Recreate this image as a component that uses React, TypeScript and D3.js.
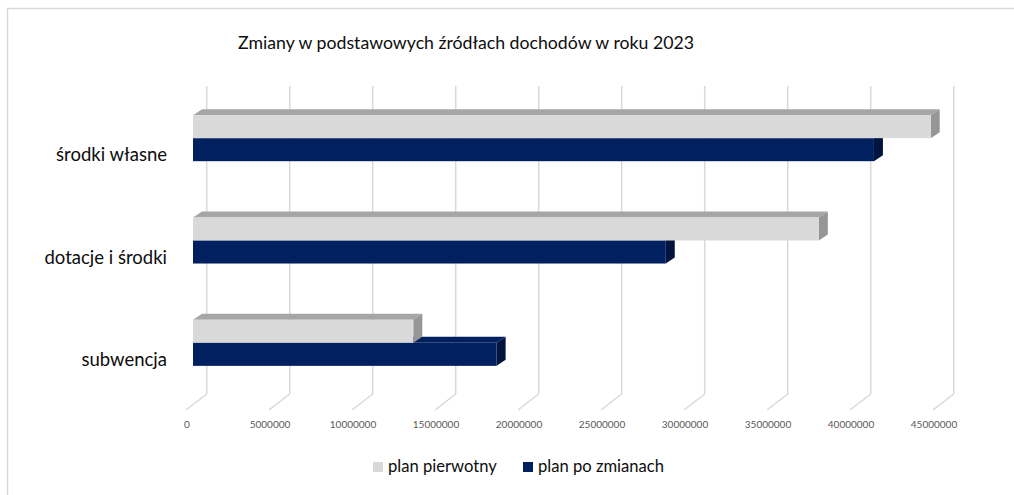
import React, { useEffect, useRef } from 'react';
import * as d3 from 'd3';

const categories = ['środki własne', 'dotacje i środki', 'subwencja'];
const seriesNames = ['plan pierwotny', 'plan po zmianach'];
const planPierwotny = [44440000, 37700000, 13270000];
const planPoZmianach = [41020000, 28480000, 18290000];
const xTicks = [0, 5000000, 10000000, 15000000, 20000000, 25000000, 30000000, 35000000, 40000000, 45000000];

const W = 1014;
const H = 495;

export default function App() {
    const svgRef = useRef<SVGSVGElement>(null);

    useEffect(() => {
        if (!svgRef.current) return;
        const svg = d3.select(svgRef.current);
        svg.selectAll('*').remove();

        const font = 'Lato, "Open Sans", sans-serif';

        // frame (top + left edge only, the rest is cut off)
        svg.append('path')
            .attr('d', `M7.5,${H} L7.5,8.5 L${W},8.5`)
            .attr('fill', 'none')
            .attr('stroke', '#d9d9d9')
            .attr('stroke-width', 1.5);

        svg.append('text')
            .attr('x', 466)
            .attr('y', 49)
            .attr('text-anchor', 'middle')
            .attr('fill', '#0d0d0d')
            .style('font-family', font)
            .style('font-size', '17.7px')
            .text('Zmiany w podstawowych źródłach dochodów w roku 2023');

        // scales (front plane of the bars)
        const x = d3.scaleLinear().domain([0, 45000000]).range([193, 193 + 9 * 83]);
        const y = d3.scaleBand<string>().domain(categories).range([87, 394]).paddingInner(0.55).paddingOuter(0.275);
        const ySub = d3.scaleBand<string>().domain(seriesNames).range([0, y.bandwidth()]);

        // 3D offsets
        const wallDx = 13.7;   // bar front -> back wall
        const floorBack = 394;
        const floorFront = 410;
        const floorDx = 20.7;
        const barDx = 9;
        const barDy = -6;

        // back wall gridlines + floor lines
        const grid = svg.append('g');
        xTicks.forEach(t => {
            const bx = x(t) + wallDx;
            grid.append('line')
                .attr('x1', bx).attr('x2', bx)
                .attr('y1', 86).attr('y2', floorBack)
                .attr('stroke', '#d9d9d9').attr('stroke-width', 1.5);
            grid.append('line')
                .attr('x1', bx).attr('x2', bx - floorDx)
                .attr('y1', floorBack).attr('y2', floorFront)
                .attr('stroke', '#d9d9d9').attr('stroke-width', 1.5);
            grid.append('text')
                .attr('x', bx - floorDx + 1)
                .attr('y', 428)
                .attr('text-anchor', 'middle')
                .attr('fill', '#595959')
                .style('font-family', font)
                .style('font-size', '10px')
                .text(String(t));
        });

        const series = [
            { name: seriesNames[1], values: planPoZmianach, front: '#002060', top: '#00215e', side: '#00143d' },
            { name: seriesNames[0], values: planPierwotny, front: '#d9d9d9', top: '#a6a6a6', side: '#969696' },
        ];

        const bars = svg.append('g');
        series.forEach(s => {
            categories.forEach((c, i) => {
                const x0 = x(0);
                const x1 = x(s.values[i]);
                const y0 = (y(c) ?? 0) + (ySub(s.name) ?? 0);
                const h = ySub.bandwidth();
                // top face
                bars.append('path')
                    .attr('d', `M${x0},${y0} L${x0 + barDx},${y0 + barDy} L${x1 + barDx},${y0 + barDy} L${x1},${y0} Z`)
                    .attr('fill', s.top);
                // right face
                bars.append('path')
                    .attr('d', `M${x1},${y0} L${x1 + barDx},${y0 + barDy} L${x1 + barDx},${y0 + h + barDy} L${x1},${y0 + h} Z`)
                    .attr('fill', s.side);
                // front face
                bars.append('rect')
                    .attr('x', x0).attr('y', y0)
                    .attr('width', x1 - x0).attr('height', h)
                    .attr('fill', s.front);
            });
        });

        // category labels
        categories.forEach(c => {
            svg.append('text')
                .attr('x', 167)
                .attr('y', (y(c) ?? 0) + y.bandwidth() / 2 + 23)
                .attr('text-anchor', 'end')
                .attr('fill', '#0d0d0d')
                .style('font-family', font)
                .style('font-size', '18.5px')
                .text(c);
        });

        // legend
        const legend = [
            { name: seriesNames[0], color: '#d9d9d9', x: 373 },
            { name: seriesNames[1], color: '#002060', x: 523 },
        ];
        legend.forEach(l => {
            svg.append('rect')
                .attr('x', l.x).attr('y', 462)
                .attr('width', 10).attr('height', 10)
                .attr('fill', l.color);
            svg.append('text')
                .attr('x', l.x + 15)
                .attr('y', 472)
                .attr('fill', '#0d0d0d')
                .style('font-family', font)
                .style('font-size', '16.6px')
                .text(l.name);
        });
    }, []);

    return (
        <div style={{ position: 'absolute', left: 0, top: 0 }}>
            <svg ref={svgRef} width={W} height={H} style={{ display: 'block', background: '#fff' }} />
        </div>
    );
}
